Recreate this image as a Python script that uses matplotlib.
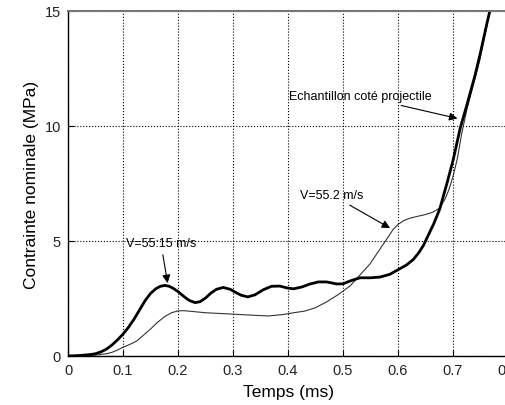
import matplotlib.pyplot as plt

plt.rcParams['font.family'] = ['Liberation Sans', 'DejaVu Sans']

# sample on the projectile side (thick curve, V=55.15 m/s)
t_thick = [0.0, 0.02, 0.04, 0.05, 0.06, 0.07, 0.08, 0.09, 0.10, 0.11, 0.12,
           0.13, 0.14, 0.15, 0.16, 0.168, 0.176, 0.184, 0.192, 0.20, 0.21,
           0.22, 0.231, 0.24, 0.25, 0.26, 0.27, 0.282, 0.295, 0.305, 0.315,
           0.327, 0.34, 0.355, 0.37, 0.385, 0.398, 0.41, 0.425, 0.44, 0.455,
           0.47, 0.489, 0.50, 0.515, 0.531, 0.55, 0.567, 0.585, 0.60, 0.615,
           0.628, 0.638, 0.646, 0.652, 0.665, 0.676, 0.69, 0.70, 0.713,
           0.725, 0.74, 0.75, 0.762, 0.77]
v_thick = [0.0, 0.02, 0.06, 0.1, 0.18, 0.3, 0.48, 0.7, 0.95, 1.25, 1.6,
           2.0, 2.4, 2.72, 2.93, 3.03, 3.07, 3.03, 2.93, 2.8, 2.6,
           2.42, 2.32, 2.36, 2.52, 2.74, 2.9, 2.98, 2.9, 2.76, 2.64,
           2.57, 2.66, 2.88, 3.03, 3.04, 2.96, 2.92, 3.0, 3.13, 3.22,
           3.22, 3.13, 3.14, 3.28, 3.4, 3.4, 3.43, 3.55, 3.75, 3.95,
           4.2, 4.5, 4.8, 5.1, 5.75, 6.4, 7.6, 8.5, 9.9,
           10.9, 12.2, 13.2, 14.5, 15.3]

# second curve (thin, V=55.2 m/s)
t_thin = [0.0, 0.03, 0.05, 0.06, 0.07, 0.08, 0.09, 0.10, 0.112, 0.125, 0.137,
          0.15, 0.162, 0.175, 0.188, 0.20, 0.21, 0.22, 0.25, 0.30, 0.33,
          0.364, 0.39, 0.41, 0.43, 0.45, 0.47, 0.49, 0.50, 0.513, 0.53,
          0.549, 0.57, 0.58, 0.591, 0.60, 0.61, 0.62, 0.635, 0.65, 0.664,
          0.675, 0.685, 0.692, 0.70, 0.708, 0.716, 0.725, 0.737, 0.749,
          0.76, 0.77]
v_thin = [0.0, 0.01, 0.04, 0.07, 0.1, 0.16, 0.26, 0.38, 0.5, 0.65, 0.9,
          1.17, 1.45, 1.7, 1.88, 1.96, 1.97, 1.95, 1.88, 1.82, 1.78,
          1.74, 1.8, 1.88, 1.95, 2.1, 2.35, 2.65, 2.82, 3.05, 3.5,
          4.0, 4.75, 5.1, 5.5, 5.72, 5.88, 5.98, 6.07, 6.15, 6.26,
          6.42, 6.8, 7.2, 7.8, 8.6, 9.7, 10.7, 11.8, 12.9,
          14.2, 15.3]

x_ticks = [0, 0.1, 0.2, 0.3, 0.4, 0.5, 0.6, 0.7, 0.8]
x_labels = ['0', '0.1', '0.2', '0.3', '0.4', '0.5', '0.6', '0.7', '0.8']
y_ticks = [0, 5, 10, 15]

fig = plt.figure(figsize=(5.06, 4.06), dpi=100)
ax = fig.add_axes([0.1344, 0.1207, 0.8696, 0.8498])

ax.plot(t_thin, v_thin, color='#333333', lw=0.8, solid_joinstyle='round')
ax.plot(t_thick, v_thick, color='black', lw=2.0, solid_joinstyle='round')

ax.set_xlim(0, 0.8)
ax.set_ylim(0, 15)
ax.set_xticks(x_ticks)
ax.set_xticklabels(x_labels)
ax.set_yticks(y_ticks)
ax.grid(True, color='black', linestyle=':', linewidth=0.8)
ax.tick_params(direction='in', labelsize=10.5, labelcolor='#222222', length=4, pad=5)
for s in ax.spines.values():
    s.set_linewidth(1.0)
ax.spines['top'].set_color('#777777')
ax.spines['top'].set_linewidth(1.5)

ax.set_xlabel('Temps (ms)', fontsize=12.5, labelpad=5)
ax.set_ylabel('Contrainte nominale (MPa)', fontsize=12.5, labelpad=4)

arrow = dict(arrowstyle='-|>', color='black', lw=0.8, mutation_scale=12)
ax.annotate('V=55:15 m/s', xy=(0.182, 3.05), xytext=(0.105, 4.9),
            fontsize=9, ha='left', va='center', arrowprops=arrow)
ax.annotate('V=55.2 m/s', xy=(0.59, 5.5), xytext=(0.422, 7.0),
            fontsize=9, ha='left', va='center', arrowprops=arrow)
ax.annotate('Echantillon coté projectile', xy=(0.713, 10.3), xytext=(0.402, 11.3),
            fontsize=9, ha='left', va='center', arrowprops=arrow)

fig.savefig('out.png', dpi=100)
